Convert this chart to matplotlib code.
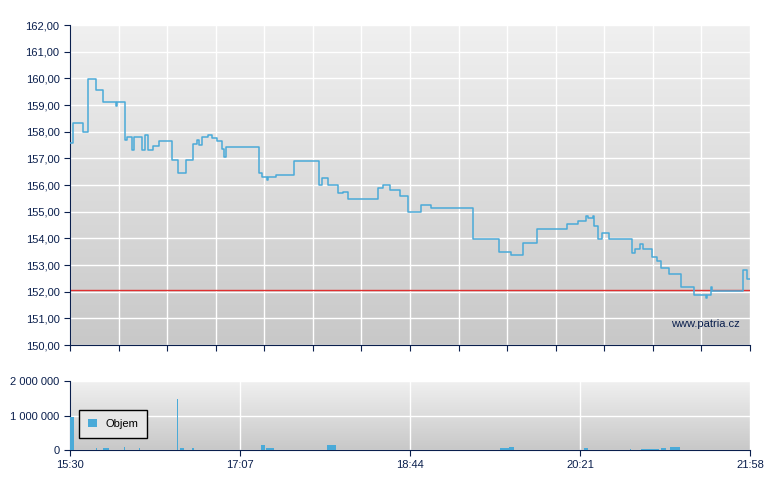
import matplotlib
matplotlib.use("Agg")
import matplotlib.pyplot as plt
import numpy as np

plt.rcParams['font.family'] = ['Liberation Sans', 'DejaVu Sans']

# price steps: minutes after 15:30, price
t_min = [0, 1.9, 7.2, 10.4, 14.7, 19.0, 26.2, 27.0, 31.4, 32.5, 35.2, 36.5, 40.9, 42.8, 44.5, 47.2, 51.0,
         58.0, 61.8, 66.2, 70.4, 72.3, 73.8, 75.1, 78.9, 80.9, 83.7, 86.6, 87.9, 88.8, 107.8, 109.4, 112.2,
         113.1, 117.5, 128.0, 142.2, 143.6, 147.0, 153.1, 155.8, 158.4, 175.9, 178.4, 182.6, 188.3, 193.0,
         200.1, 205.8, 229.8, 244.9, 251.5, 258.3, 266.3, 283.4, 289.7, 294.4, 295.6, 298.6, 299.2, 301.4,
         303.3, 307.7, 320.5, 322.4, 325.2, 326.8, 332.2, 334.8, 337.2, 341.9, 348.6, 356.0, 362.8, 363.7,
         365.6, 366.1, 384.2, 386.1, 388]
price = [157.58, 158.31, 158.0, 159.96, 159.56, 159.12, 158.96, 159.12, 157.69, 157.8, 157.31, 157.8, 157.31,
         157.87, 157.31, 157.46, 157.65, 156.94, 156.45, 156.95, 157.54, 157.7, 157.5, 157.81, 157.87, 157.75,
         157.65, 157.35, 157.04, 157.41, 156.45, 156.29, 156.2, 156.29, 156.36, 156.9, 156.0, 156.25, 156.0,
         155.71, 155.75, 155.48, 155.88, 156.0, 155.8, 155.6, 154.99, 155.25, 155.15, 153.96, 153.5, 153.38,
         153.84, 154.34, 154.54, 154.64, 154.85, 154.75, 154.85, 154.48, 153.98, 154.2, 153.99, 153.45, 153.6,
         153.8, 153.6, 153.3, 153.15, 152.9, 152.65, 152.17, 151.87, 151.75, 151.87, 152.17, 152.03, 152.8,
         152.48, 152.48]
ref_price = 152.06

vol_start = [0, 14.8, 18.8, 30.7, 39.5, 61.1, 62.8, 69.6, 109.2, 112.0, 146.7, 245.6, 250.7, 293.3, 298.2,
             319.8, 326.0, 337.4, 342.2]
vol_end = [2.0, 15.3, 22.5, 31.2, 40.0, 61.5, 65.0, 71.0, 111.4, 116.3, 152.0, 250.7, 253.3, 295.3, 298.7,
           320.3, 336.0, 340.0, 348.2]
vol_v = [966000, 58000, 58000, 87000, 58000, 1470000, 58000, 58000, 145000, 58000, 145000, 58000, 87000,
         58000, 87000, 40000, 30000, 58000, 87000]

x_labels = ["15:30", "17:07", "18:44", "20:21", "21:58"]
y_main = [150, 151, 152, 153, 154, 155, 156, 157, 158, 159, 160, 161, 162]
y_vol = [0, 1000000, 2000000]

navy = "#0a1f4d"
fig = plt.figure(figsize=(7.8, 4.9), dpi=100)
ax = fig.add_axes([70/780, 1-345/490, 680/780, 320/490])
av = fig.add_axes([70/780, 1-450/490, 680/780, 69/490])

grad = np.linspace(0, 1, 256).reshape(-1, 1)
cmap = matplotlib.colors.LinearSegmentedColormap.from_list("g", ["#f0f0f0", "#c8c8c8"])
for a in (ax, av):
    a.imshow(grad, extent=[0, 1, 0, 1], transform=a.transAxes, aspect="auto", cmap=cmap, zorder=0)
    for s in ("top", "right"):
        a.spines[s].set_visible(False)
    for s in ("left", "bottom"):
        a.spines[s].set_color(navy)
    a.tick_params(colors=navy, labelsize=8, length=4)

ax.step(t_min, price, where="post", color="#4aaad8", lw=1.1, zorder=3)
ax.axhline(ref_price, color="#e03030", lw=1, zorder=2)
ax.set_xlim(0, 388)
ax.set_ylim(150, 162)
ax.set_yticks(y_main)
ax.set_yticklabels([f"{v:.2f}".replace(".", ",") for v in y_main])
ax.set_xticks(np.linspace(0, 388, 15))
ax.set_xticklabels([])
ax.grid(True, color="white", lw=1)
for l in ax.get_xgridlines() + ax.get_ygridlines():
    l.set_zorder(1)
ax.text(0.985, 0.055, "www.patria.cz", transform=ax.transAxes, ha="right", fontsize=8, color=navy, zorder=4)

widths = [e - s for s, e in zip(vol_start, vol_end)]
av.bar(vol_start, vol_v, width=widths, align="edge", color="#4aaad8", zorder=3, label="Objem")
av.set_xlim(0, 388)
av.set_ylim(0, 2000000)
av.set_yticks(y_vol)
av.set_yticklabels(["0", "1 000 000", "2 000 000"])
av.set_xticks(np.linspace(0, 388, 5))
av.set_xticklabels(x_labels)
av.grid(True, color="white", lw=1)
for l in av.get_xgridlines() + av.get_ygridlines():
    l.set_zorder(1)
leg = av.legend(loc="upper left", bbox_to_anchor=(0.005, 0.66), fontsize=8, fancybox=False,
                edgecolor="black", framealpha=1, facecolor="#e6e6e6", handlelength=0.8, handleheight=0.8,
                borderpad=0.8)
leg.get_frame().set_linewidth(1)

fig.savefig("out.png", dpi=100)
